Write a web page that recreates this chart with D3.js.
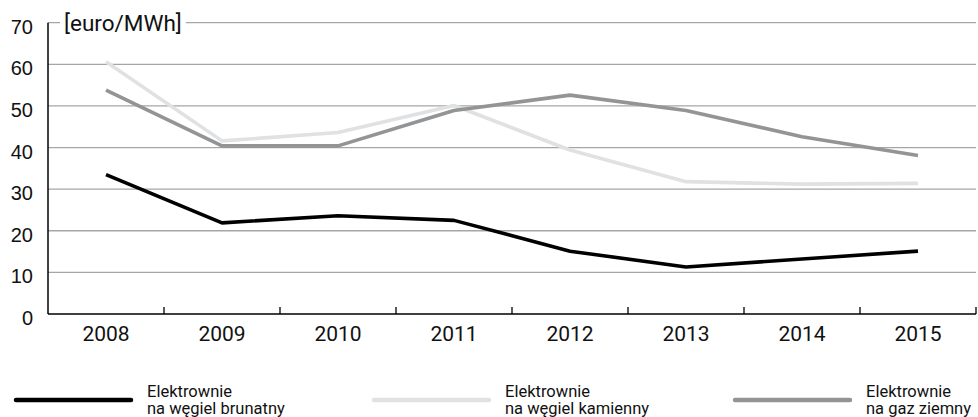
<!DOCTYPE html>
<html>
<head>
<meta charset="utf-8">
<script src="https://cdn.jsdelivr.net/npm/d3@7"></script>
<style>
  body { margin: 0; background: #fff; }
  svg { display: block; }
</style>
</head>
<body>
<script>
// values, euro/MWh
let years = ["2008", "2009", "2010", "2011", "2012", "2013", "2014", "2015"];
let lignite = [33.5, 21.9, 23.6, 22.5, 15.1, 11.3, 13.2, 15.1];
let hardCoal = [60.6, 41.6, 43.6, 50.1, 39.4, 31.8, 31.2, 31.4];
let gas = [53.8, 40.4, 40.4, 48.9, 52.6, 48.9, 42.6, 38.1];
let yTicks = [0, 10, 20, 30, 40, 50, 60, 70];
let seriesNames = ["Elektrownie\nna węgiel brunatny", "Elektrownie\nna węgiel kamienny", "Elektrownie\nna gaz ziemny"];
let seriesColors = ["#000000", "#e0e1e2", "#939496"];

let width = 978,
    height = 417,
    margins = {top: 22.7, right: 2, bottom: 103, left: 48};

let svg = d3.select("body").append("svg")
    .attr("width", width)
    .attr("height", height);

let xScale = d3.scaleBand(years, [margins.left, width - margins.right]);
let yScale = d3.scaleLinear([0, 70], [height - margins.bottom, margins.top]);

// horizontal grid
svg.append("g")
    .selectAll("line")
    .data(yTicks.filter(t => t > 0))
    .join("line")
    .attr("x1", margins.left)
    .attr("x2", width - margins.right)
    .attr("y1", d => yScale(d))
    .attr("y2", d => yScale(d))
    .attr("stroke", "#a6a6a6")
    .attr("stroke-width", 1.3);

// unit label sits on the top gridline
let unit = svg.append("text")
    .attr("x", 64)
    .attr("y", yScale(70) + 8)
    .attr("font-family", "Roboto, sans-serif")
    .attr("font-size", 22.5)
    .attr("fill", "#111")
    .text("[euro/MWh]");
let bb = unit.node().getBBox();
svg.insert("rect", "text")
    .attr("x", bb.x - 4)
    .attr("y", yScale(70) - 3)
    .attr("width", bb.width + 8)
    .attr("height", 6)
    .attr("fill", "#fff");

// y tick labels
svg.append("g")
    .selectAll("text")
    .data(yTicks)
    .join("text")
    .attr("x", 33)
    .attr("y", d => yScale(d) + 11)
    .attr("text-anchor", "end")
    .attr("font-family", "'Liberation Sans', Arial, sans-serif")
    .attr("font-size", 20)
    .attr("fill", "#111")
    .text(d => d);

// axes
svg.append("line")
    .attr("x1", margins.left).attr("x2", margins.left)
    .attr("y1", yScale(70)).attr("y2", yScale(0))
    .attr("stroke", "#000").attr("stroke-width", 1.5);
svg.append("line")
    .attr("x1", margins.left).attr("x2", width - margins.right)
    .attr("y1", yScale(0)).attr("y2", yScale(0))
    .attr("stroke", "#000").attr("stroke-width", 1.5);

// tick marks between years
svg.append("g")
    .selectAll("line")
    .data(years)
    .join("line")
    .attr("x1", d => xScale(d) + xScale.bandwidth())
    .attr("x2", d => xScale(d) + xScale.bandwidth())
    .attr("y1", yScale(0))
    .attr("y2", yScale(0) - 7)
    .attr("stroke", "#000")
    .attr("stroke-width", 1.3);

// year labels
svg.append("g")
    .selectAll("text")
    .data(years)
    .join("text")
    .attr("x", d => xScale(d) + xScale.bandwidth() / 2)
    .attr("y", yScale(0) + 27)
    .attr("text-anchor", "middle")
    .attr("font-family", "Roboto, sans-serif")
    .attr("font-size", 21)
    .attr("fill", "#111")
    .text(d => d);

// lines
let line = d3.line()
    .x((d, i) => xScale(years[i]) + xScale.bandwidth() / 2)
    .y(d => yScale(d));

let allSeries = [lignite, hardCoal, gas];
// light line first, darker ones on top
[1, 2, 0].forEach(k => {
    svg.append("path")
        .datum(allSeries[k])
        .attr("d", line)
        .attr("fill", "none")
        .attr("stroke", seriesColors[k])
        .attr("stroke-width", 3.6)
        .attr("stroke-linejoin", "round");
});

// legend
let legendX = [16, 374, 735];
let legend = svg.append("g")
    .selectAll("g")
    .data(seriesNames)
    .join("g")
    .attr("transform", (d, i) => `translate(${legendX[i]}, 400)`);

legend.append("line")
    .attr("x1", 0).attr("x2", 115)
    .attr("y1", 0).attr("y2", 0)
    .attr("stroke", (d, i) => seriesColors[i])
    .attr("stroke-width", 4.5)
    .attr("stroke-linecap", "round");

legend.append("text")
    .attr("font-family", "Roboto, sans-serif")
    .attr("font-size", 16.5)
    .attr("fill", "#111")
    .selectAll("tspan")
    .data(d => d.split("\n"))
    .join("tspan")
    .attr("x", 131)
    .attr("y", (d, i) => -3 + i * 17)
    .text(d => d);
</script>
</body>
</html>
